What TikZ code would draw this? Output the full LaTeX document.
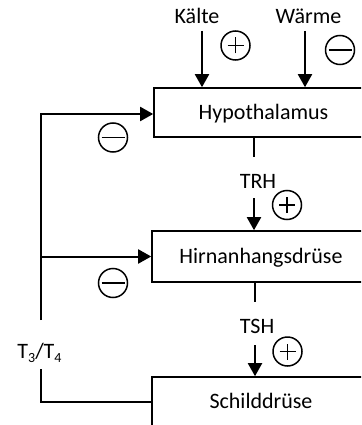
\documentclass[tikz,border=0pt]{standalone}
\usepackage{fontspec}
\setmainfont{Carlito}
\usetikzlibrary{arrows.meta}
\newcommand{\mysubs}[1]{\raisebox{-0.2em}{\fontsize{14}{14}\selectfont #1}}
\begin{document}
\begin{tikzpicture}[x=1pt,y=-1pt,
  line/.style={line width=2pt},
  arr/.style={line width=2pt,-{Triangle[width=14pt,length=13pt]}},
  box/.style={draw,line width=1.6pt,inner sep=0pt,text height=15pt,text depth=2pt,font=\fontsize{22}{24}\selectfont},
  lbl/.style={font=\fontsize{22}{24}\selectfont,inner sep=0pt,anchor=base},
  sgn/.style={draw,circle,line width=1.5pt,minimum size=29pt,inner sep=0pt},
  pluscirc/.style={sgn,path picture={\draw[line width=1.4pt]
      ([xshift=-8pt]path picture bounding box.center) -- ([xshift=8pt]path picture bounding box.center)
      ([yshift=-8pt]path picture bounding box.center) -- ([yshift=8pt]path picture bounding box.center);}},
  minuscirc/.style={sgn,path picture={\draw[line width=1.4pt]
      ([xshift=-11.5pt]path picture bounding box.center) -- ([xshift=11.5pt]path picture bounding box.center);}}
]
\useasboundingbox (0,0) rectangle (361,425);
\clip (0,0) rectangle (361,425);

% boxes
\node[box,minimum width=219pt,minimum height=49pt] (hypo) at (263.5,112.5) {Hypothalamus};
\node[box,minimum width=218pt,minimum height=51pt] (hirn) at (261,256.5) {Hirnanhangsdrüse};
\node[box,minimum width=218pt,minimum height=49pt] (schild) at (261,401.5) {Schilddrüse};

% inputs
\node[lbl] (kalte) at (197,23.3) {Kälte};
\node[lbl] (warme) at (308.5,23.3) {Wärme};
\coordinate (ka) at (202,31);
\coordinate (wa) at (305,31);
\draw[arr] (ka) -- (ka |- hypo.north);
\draw[arr] (wa) -- (wa |- hypo.north);
\node[pluscirc] (p1) at (235.5,45.5) {};
\node[minuscirc] (m1) at (340,50) {};

% TRH
\coordinate (t1) at (254,157);
\draw[line] (t1 |- hypo.south) -- (t1);
\node[lbl] (trh) at (258,188.3) {TRH};
\coordinate (t2) at (254,198);
\draw[arr] (t2) -- (t2 |- hirn.north);
\node[pluscirc] (p2) at (287,205) {};

% TSH
\coordinate (s1) at (255,302);
\draw[line] (s1 |- hirn.south) -- (s1);
\node[lbl] (tsh) at (257,333.3) {TSH};
\coordinate (s2) at (255,345);
\draw[arr] (s2) -- (s2 |- schild.north);
\node[pluscirc] (p3) at (287.5,351.5) {};

% feedback
\node[lbl] (t34) at (39.5,358) {T\mysubs{3}/T\mysubs{4}};
\coordinate (fa) at (40.5,369);
\coordinate (fb) at (40.5,320);
\draw[line] (schild.west) -| (fa);
\draw[arr] (fb) |- ([yshift=-1.5pt]hypo.west);
\draw[arr] (fb |- hirn.west) -- (hirn.west);
\node[minuscirc] (m2) at (113,137.5) {};
\node[minuscirc] (m3) at (113,283) {};
\end{tikzpicture}
\end{document}
